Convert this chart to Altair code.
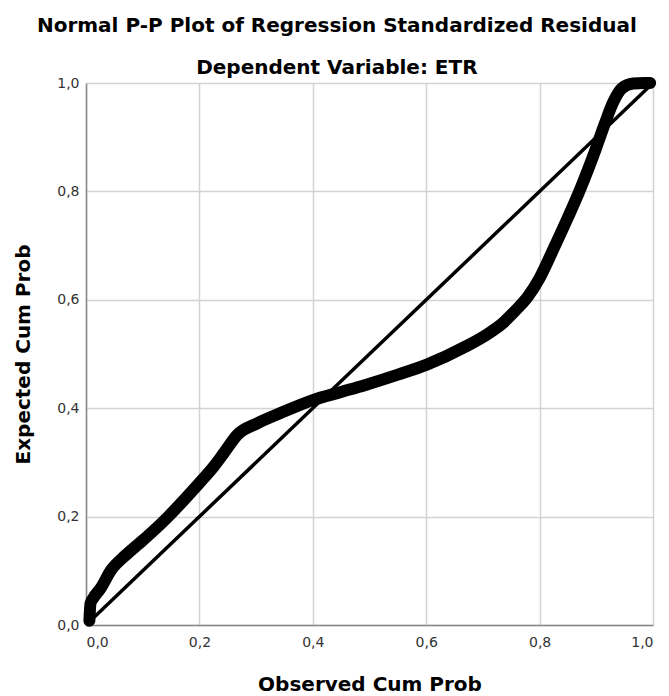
import altair as alt
import pandas as pd

# Observed cumulative probability (x) and expected cumulative probability (y) of the residual curve
obs = [0.006, 0.008, 0.013, 0.026, 0.044, 0.067, 0.090, 0.114, 0.145, 0.173, 0.200,
       0.225, 0.243, 0.267, 0.302, 0.343, 0.400, 0.450, 0.493, 0.550, 0.600, 0.670,
       0.710, 0.734, 0.760, 0.778, 0.800, 0.825, 0.850, 0.872, 0.899, 0.915, 0.930,
       0.945, 0.965, 0.985, 0.995]
exp = [0.008, 0.040, 0.050, 0.068, 0.101, 0.126, 0.147, 0.169, 0.200, 0.231, 0.262,
       0.292, 0.317, 0.351, 0.372, 0.391, 0.415, 0.430, 0.443, 0.462, 0.480, 0.514,
       0.538, 0.556, 0.583, 0.604, 0.640, 0.695, 0.752, 0.805, 0.878, 0.925, 0.965,
       0.990, 0.999, 1.000, 1.000]

diag_x = [0.0, 1.0]
diag_y = [0.0, 1.0]
ticks = [0.0, 0.2, 0.4, 0.6, 0.8, 1.0]

df = pd.DataFrame({"obs": obs, "exp": exp, "i": list(range(len(obs)))})
diag = pd.DataFrame({"obs": diag_x, "exp": diag_y})

label_expr = "replace(format(datum.value, '.1f'), '.', ',')"

xenc = alt.X("obs:Q", scale=alt.Scale(domain=[0, 1], nice=False),
             axis=alt.Axis(values=ticks, title="Observed Cum Prob", labelExpr=label_expr,
                           labelPadding=10, titlePadding=25))
yenc = alt.Y("exp:Q", scale=alt.Scale(domain=[0, 1], nice=False),
             axis=alt.Axis(values=ticks, title="Expected Cum Prob", labelExpr=label_expr,
                           labelPadding=7, titlePadding=23))

diag_line = alt.Chart(diag).mark_line(color="black", strokeWidth=3.5).encode(x=xenc, y=yenc)

curve = alt.Chart(df).mark_line(
    color="black", strokeWidth=12, strokeCap="round", strokeJoin="round",
    interpolate="monotone", clip=False
).encode(x=xenc, y=yenc, order="i:Q")

chart = alt.layer(diag_line, curve).properties(
    width=567,
    height=542,
    padding={"left": 5, "top": 8, "right": 0, "bottom": 0},
    title=alt.Title(
        text=["Normal P-P Plot of Regression Standardized Residual", "Dependent Variable: ETR"],
        font="DejaVu Sans", fontSize=20, fontWeight="bold", color="black",
        lineHeight=42, anchor="middle", frame="bounds", offset=-2
    ),
).configure_axis(
    domainColor="#888888", domainWidth=1.5,
    gridColor="#d3d3d3", gridWidth=1.5,
    ticks=False,
    labelColor="#333333", labelFont="DejaVu Sans", labelFontSize=14,
    titleFont="DejaVu Sans", titleFontSize=20, titleFontWeight="bold", titleColor="black",
).configure_view(stroke=None)

chart.save("out.html", embed_options={"renderer": "svg", "actions": False})
